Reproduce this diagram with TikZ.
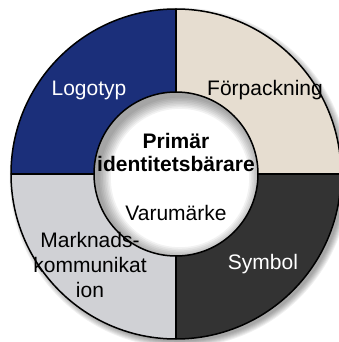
\documentclass[tikz,border=0pt]{standalone}
\usepackage{fontspec}
\setmainfont{Liberation Sans}

\definecolor{logoblue}{RGB}{27,47,122}
\definecolor{packbeige}{RGB}{230,221,208}
\definecolor{symbgray}{RGB}{51,51,51}
\definecolor{markgray}{RGB}{208,209,213}

\begin{document}
\begin{tikzpicture}[x=1pt, y=1pt,
    ring/.style={draw=black, line width=0.75pt},
    lbl/.style={font=\fontsize{10.5}{12.5}\selectfont, align=center, inner sep=0pt}]
    \useasboundingbox (-88,-84) rectangle (81,87);
    % soft shadow of the ring
    \foreach \i in {0,...,6}
        \fill[black, opacity=0.06] (1.8,-1.8) circle ({85-\i*0.5});
    % the four quarters
    \fill[logoblue]  (0,0) -- (-82.5,0) arc (180:90:82.5) -- cycle;
    \fill[packbeige] (0,0) -- (0,82.5) arc (90:0:82.5) -- cycle;
    \fill[symbgray]  (0,0) -- (82.5,0) arc (0:-90:82.5) -- cycle;
    \fill[markgray]  (0,0) -- (0,-82.5) arc (-90:-180:82.5) -- cycle;
    % hole in the middle, with its inner shadow
    \fill[white] (0,0) circle (41);
    \begin{scope}
        \clip (0,0) circle (41);
        \foreach \i in {1,...,8}
            \fill[black, opacity=0.05, even odd rule]
                (-50,-50) rectangle (50,50) (2,-2) circle ({41-\i*0.8});
    \end{scope}
    % outlines
    \draw[ring] (0,0) circle (82.5);
    \draw[ring] (0,0) circle (41);
    \draw[ring] (-82.5,0) -- (-41,0);
    \draw[ring] (41,0) -- (82.5,0);
    \draw[ring] (0,41) -- (0,82.5);
    \draw[ring] (0,-41) -- (0,-82.5);
    % labels
    \node[lbl, text=white] at (-43.5,42) (L0) {Logotyp};
    \node[lbl] at (44.5,42) (L1) {Förpackning};
    \node[lbl, text=white] at (43.5,-45) (L2) {Symbol};
    \node[lbl] at (-43,-45.5) (L3) {Marknads-\\kommunikat\\ion};
    \node[lbl, font=\fontsize{10.5}{11.5}\selectfont\bfseries] at (0,10.8) (C0) {Primär\\identitetsbärare};
    \node[lbl] at (0,-19.5) (C1) {Varumärke};
\end{tikzpicture}
\end{document}
